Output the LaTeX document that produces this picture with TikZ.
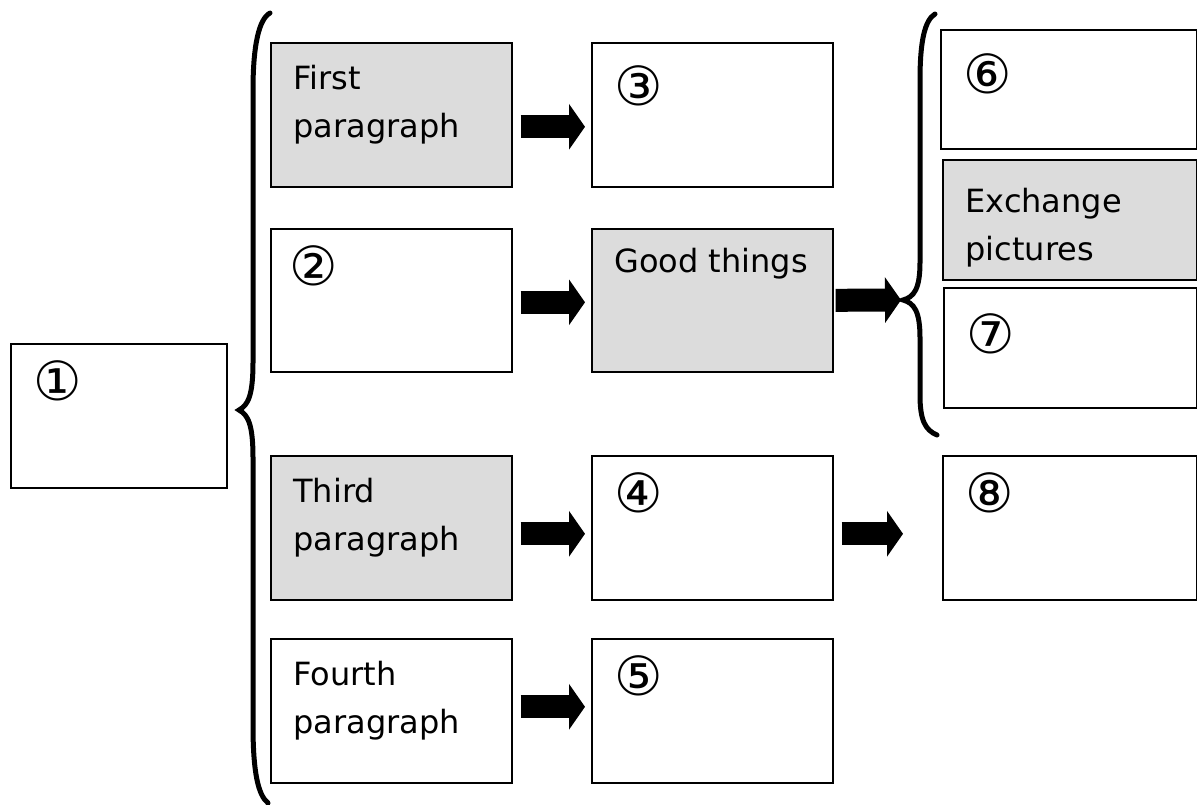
\documentclass[tikz,border=0pt]{standalone}
\usepackage{fontspec}
\setmainfont{DejaVu Sans}
\usetikzlibrary{arrows.meta}
\definecolor{boxgray}{RGB}{220,220,220}
\tikzstyle{box} = [rectangle, draw=black, line width=0.8pt, anchor=north west, minimum width=120.5pt, minimum height=72pt, inner sep=0pt]
\tikzstyle{side} = [box, minimum width=127pt, minimum height=60pt]
\tikzstyle{shaded} = [fill=boxgray]
\tikzstyle{txt} = [font=\fontsize{16pt}{24pt}\selectfont, align=left, inner sep=0pt, anchor=north west, xshift=11.5pt, yshift=-11.5pt]
\tikzstyle{num} = [font=\fontsize{27pt}{30pt}\selectfont, inner sep=0pt, anchor=north west, xshift=11.5pt, yshift=-8.5pt]
\tikzstyle{bigarrow} = [line width=11.5pt, -{Triangle[length=8pt,width=22.5pt]}, shorten <=4pt, shorten >=3pt]
\tikzstyle{brace} = [line width=2.5pt, line cap=round]

\begin{document}
\begin{tikzpicture}[x=0.5pt, y=-0.5pt]
  \useasboundingbox (0,0) rectangle (1197,804);

  % left column
  \node (one) [box, minimum width=108pt, label={[num]north west:①}] at (10,343) {};

  % paragraphs
  \node (first) [box, shaded, label={[txt]north west:{First\\paragraph}}] at (270,42) {};
  \node (two) [box, minimum height=71.5pt, label={[num, xshift=-2pt]north west:②}] at (270,228) {};
  \node (third) [box, shaded, label={[txt]north west:{Third\\paragraph}}] at (270,455) {};
  \node (fourth) [box, label={[txt]north west:{Fourth\\paragraph}}] at (270,638) {};

  % middle column
  \node (three) [box, label={[num, yshift=-3pt]north west:③}] at (591,42) {};
  \node (good) [box, shaded, minimum height=71.5pt, label={[txt, yshift=1.5pt]north west:{Good things}}] at (591,228) {};
  \node (four) [box, label={[num]north west:④}] at (591,455) {};
  \node (five) [box, label={[num]north west:⑤}] at (591,638) {};

  % right column
  \node (six) [side, minimum width=128pt, minimum height=59.5pt, label={[num, yshift=-3.5pt]north west:⑥}] at (940,29) {};
  \node (exch) [side, shaded, label={[txt, yshift=-3pt]north west:{Exchange\\pictures}}] at (942,159) {};
  \node (seven) [side, minimum width=126.5pt, label={[num, yshift=-4.5pt]north west:⑦}] at (943,287) {};
  \node (eight) [side, minimum height=72pt, label={[num]north west:⑧}] at (942,455) {};

  % braces
  \coordinate (tipL) at (239,410);
  \coordinate (tipR) at (903,300);
  \draw [brace] (270,13) .. controls (259,19) and (253,45) .. (253,90) -- (253,362)
    .. controls (253,396) and (248,405) .. (tipL)
    .. controls (248,415) and (253,424) .. (253,458) -- (253,725)
    .. controls (253,772) and (258,795) .. (268,803);
  \draw [brace] (935,14) .. controls (925,20) and (920,40) .. (920,80) -- (920,262)
    .. controls (920,289) and (914,297) .. (tipR)
    .. controls (914,303) and (920,311) .. (920,338) -- (920,395)
    .. controls (920,420) and (925,430) .. (937,435);

  \draw [bigarrow] ([yshift=-6pt]first.east) -- ([yshift=-6pt]three.west);
  \draw [bigarrow] ([yshift=-1pt]two.east) -- ([yshift=-1pt]good.west);
  \draw [bigarrow, shorten <=1pt, shorten >=1pt] (good.east) -- (tipR);
  \draw [bigarrow] ([yshift=-3pt]third.east) -- ([yshift=-3pt]four.west);
  \draw [bigarrow] ([yshift=2pt]fourth.east) -- ([yshift=2pt]five.west);
  \draw [bigarrow, shorten >=19.5pt] ([yshift=-3pt]four.east) -- ([yshift=-3pt]eight.west);
\end{tikzpicture}
\end{document}
